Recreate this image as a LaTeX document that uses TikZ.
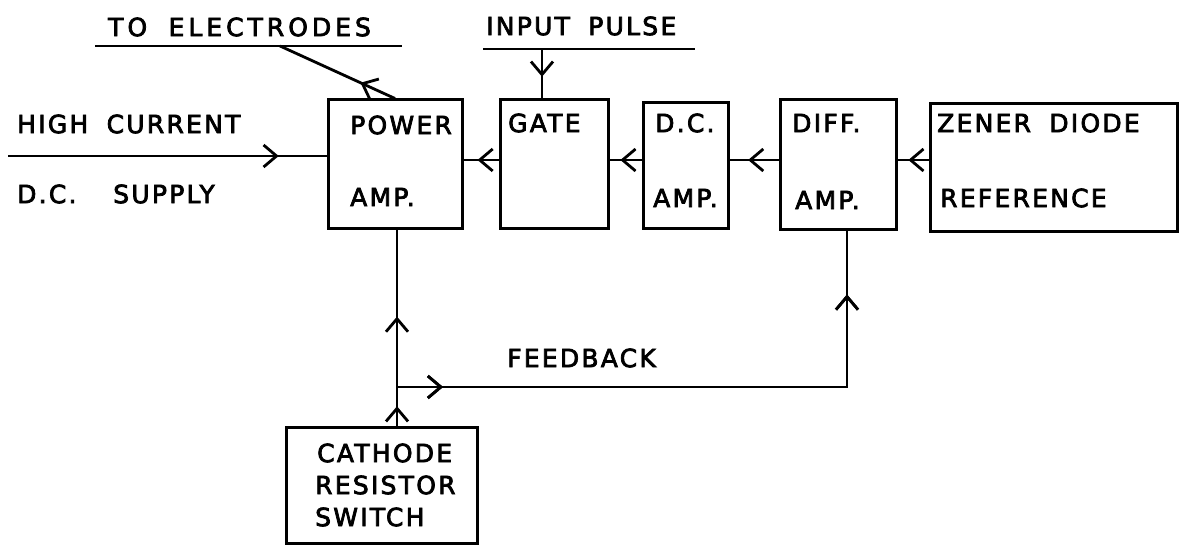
\documentclass[tikz,border=0pt]{standalone}
\usepackage{fontspec}
\usepackage{tikz}
\usetikzlibrary{calc,arrows.meta,decorations.markings}
\newfontfamily\letfont[LetterSpace=9,FakeBold=3,WordSpace=1.8]{DejaVu Sans}

\tikzset{
  box/.style={draw, line width=3pt, inner sep=0pt},
  wire/.style={line width=2.8pt},
  lbl/.style={font=\letfont\fontsize{25}{28}\selectfont, inner sep=0pt, anchor=west},
  barb/.tip={Straight Barb[length=13pt,width=22pt,line width=2.8pt]},
  midarrow/.style={postaction={decorate},
    decoration={markings,mark=at position #1 with {\arrow{barb}}}},
}

\begin{document}
\begin{tikzpicture}[x=1pt,y=1pt,yscale=-1,xscale=1]
\useasboundingbox (0,0) rectangle (1180,545);

% Boxes
\node[box, minimum width=134pt, minimum height=129pt] (power) at (395,164.5) {};
\node[box, minimum width=108pt, minimum height=129pt] (gate) at (554,164.5) {};
\node[box, minimum width=85pt, minimum height=126pt] (dcamp) at (685.5,166) {};
\node[box, minimum width=116pt, minimum height=130pt] (diffamp) at (838,165) {};
\node[box, minimum width=247pt, minimum height=128pt] (zener) at (1053.5,168) {};
\node[box, minimum width=191pt, minimum height=116pt] (cathode) at (381.5,485) {};

% Coordinates
\coordinate (row) at (0,160);
\coordinate (dcin) at (8,156);
\coordinate (elec) at (280,46);
\coordinate (elecL) at (95,46);
\coordinate (elecR) at (402,46);
\coordinate (inp) at (542,49);
\coordinate (inpL) at (483,49);
\coordinate (inpR) at (695,49);
\coordinate (jn) at (397,387);
\coordinate (fb) at (847,387);

% Text Node
\node[lbl] (totxt) at (108,27) {\addfontfeature{LetterSpace=16}TO ELECTRODES};
\node[lbl] (inptxt) at (486,26) {INPUT PULSE};
\node[lbl] (hightxt) at (17,124) {HIGH CURRENT};
\node[lbl] (supptxt) at (17,194) {D.C.\ \ SUPPLY};
\node[lbl] (powtxt) at (350,125) {POWER};
\node[lbl] (powamp) at (350,197) {AMP.};
\node[lbl] (gatetxt) at (508,123) {GATE};
\node[lbl] (dctxt) at (655,123) {D.C.};
\node[lbl] (dcamptxt) at (653,198) {AMP.};
\node[lbl] (difftxt) at (792,123) {DIFF.};
\node[lbl] (diffamptxt) at (795,200) {AMP.};
\node[lbl] (zenertxt) at (937,123) {ZENER DIODE};
\node[lbl] (reftxt) at (940,198) {REFERENCE};
\node[lbl] (fbtxt) at (507,358) {FEEDBACK};
\node[lbl] (cattxt) at (317,453) {CATHODE};
\node[lbl] (restxt) at (315,485) {RESISTOR};
\node[lbl] (swtxt) at (315,517) {SWITCH};

% Lines
\draw[wire] (elecL) -- (elecR);
\draw[wire, midarrow=0.3] (power.north) -- (elec);
\draw[wire] (inpL) -- (inpR);
\draw[wire, midarrow=0.56] (inp) -- (inp |- gate.north);
\draw[wire, midarrow=0.85] (dcin) -- (power.west |- dcin);
\draw[wire, midarrow=0.6] (gate.west |- row) -- (power.east |- row);
\draw[wire, midarrow=0.66] (dcamp.west |- row) -- (gate.east |- row);
\draw[wire, midarrow=0.62] (diffamp.west |- row) -- (dcamp.east |- row);
\draw[wire, midarrow=0.65] (zener.west |- row) -- (diffamp.east |- row);
\draw[wire, midarrow=0.5] (cathode.north -| jn) -- (jn);
\draw[wire, midarrow=0.45] (jn) -- (power.south -| jn);
\draw[wire, midarrow=0.076, midarrow=0.896] (jn) -- (fb) -- (fb |- diffamp.south);

\end{tikzpicture}
\end{document}
